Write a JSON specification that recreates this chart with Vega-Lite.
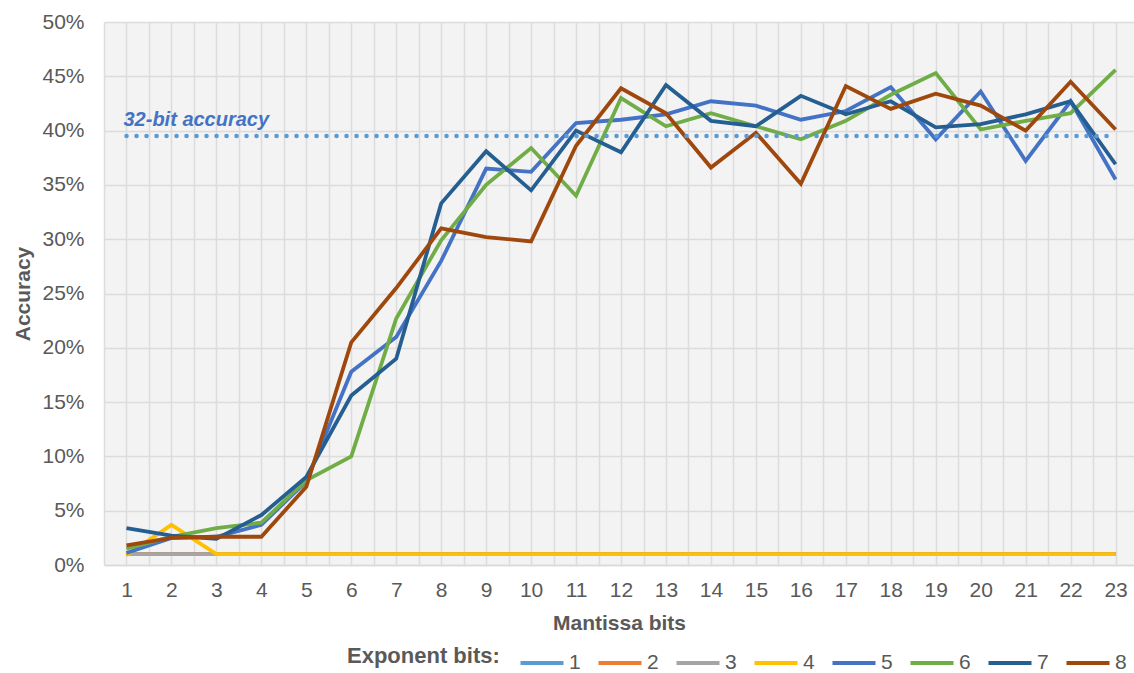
{
  "$schema": "https://vega.github.io/schema/vega-lite/v6.json",
  "width": 1030,
  "height": 543,
  "autosize": {"type": "none"},
  "padding": {"left": 104, "top": 22, "right": 0, "bottom": 108},
  "background": "white",
  "config": {
    "font": "Liberation Sans",
    "view": {"stroke": null, "fill": "#f3f3f3"},
    "axis": {
      "labelFont": "Liberation Sans",
      "labelFontSize": 21,
      "labelColor": "#595959",
      "titleFont": "Liberation Sans",
      "titleFontSize": 21,
      "titleFontWeight": "bold",
      "titleColor": "#595959",
      "gridColor": "#dcdcdc",
      "gridWidth": 1.5,
      "ticks": false
    }
  },
  "resolve": {"axis": {"x": "independent"}},
  "datasets": {
    "acc": [
      {"m":1,"e":"1","v":1.0},{"m":2,"e":"1","v":1.0},{"m":3,"e":"1","v":1.0},{"m":4,"e":"1","v":1.0},{"m":5,"e":"1","v":1.0},{"m":6,"e":"1","v":1.0},{"m":7,"e":"1","v":1.0},{"m":8,"e":"1","v":1.0},{"m":9,"e":"1","v":1.0},{"m":10,"e":"1","v":1.0},{"m":11,"e":"1","v":1.0},{"m":12,"e":"1","v":1.0},{"m":13,"e":"1","v":1.0},{"m":14,"e":"1","v":1.0},{"m":15,"e":"1","v":1.0},{"m":16,"e":"1","v":1.0},{"m":17,"e":"1","v":1.0},{"m":18,"e":"1","v":1.0},{"m":19,"e":"1","v":1.0},{"m":20,"e":"1","v":1.0},{"m":21,"e":"1","v":1.0},{"m":22,"e":"1","v":1.0},{"m":23,"e":"1","v":1.0},
      {"m":1,"e":"2","v":1.0},{"m":2,"e":"2","v":1.0},{"m":3,"e":"2","v":1.0},{"m":4,"e":"2","v":1.0},{"m":5,"e":"2","v":1.0},{"m":6,"e":"2","v":1.0},{"m":7,"e":"2","v":1.0},{"m":8,"e":"2","v":1.0},{"m":9,"e":"2","v":1.0},{"m":10,"e":"2","v":1.0},{"m":11,"e":"2","v":1.0},{"m":12,"e":"2","v":1.0},{"m":13,"e":"2","v":1.0},{"m":14,"e":"2","v":1.0},{"m":15,"e":"2","v":1.0},{"m":16,"e":"2","v":1.0},{"m":17,"e":"2","v":1.0},{"m":18,"e":"2","v":1.0},{"m":19,"e":"2","v":1.0},{"m":20,"e":"2","v":1.0},{"m":21,"e":"2","v":1.0},{"m":22,"e":"2","v":1.0},{"m":23,"e":"2","v":1.0},
      {"m":1,"e":"3","v":1.0},{"m":2,"e":"3","v":1.0},{"m":3,"e":"3","v":1.0},{"m":4,"e":"3","v":1.0},{"m":5,"e":"3","v":1.0},{"m":6,"e":"3","v":1.0},{"m":7,"e":"3","v":1.0},{"m":8,"e":"3","v":1.0},{"m":9,"e":"3","v":1.0},{"m":10,"e":"3","v":1.0},{"m":11,"e":"3","v":1.0},{"m":12,"e":"3","v":1.0},{"m":13,"e":"3","v":1.0},{"m":14,"e":"3","v":1.0},{"m":15,"e":"3","v":1.0},{"m":16,"e":"3","v":1.0},{"m":17,"e":"3","v":1.0},{"m":18,"e":"3","v":1.0},{"m":19,"e":"3","v":1.0},{"m":20,"e":"3","v":1.0},{"m":21,"e":"3","v":1.0},{"m":22,"e":"3","v":1.0},{"m":23,"e":"3","v":1.0},
      {"m":1,"e":"4","v":0.9},{"m":2,"e":"4","v":3.7},{"m":3,"e":"4","v":1.0},{"m":4,"e":"4","v":1.0},{"m":5,"e":"4","v":1.0},{"m":6,"e":"4","v":1.0},{"m":7,"e":"4","v":1.0},{"m":8,"e":"4","v":1.0},{"m":9,"e":"4","v":1.0},{"m":10,"e":"4","v":1.0},{"m":11,"e":"4","v":1.0},{"m":12,"e":"4","v":1.0},{"m":13,"e":"4","v":1.0},{"m":14,"e":"4","v":1.0},{"m":15,"e":"4","v":1.0},{"m":16,"e":"4","v":1.0},{"m":17,"e":"4","v":1.0},{"m":18,"e":"4","v":1.0},{"m":19,"e":"4","v":1.0},{"m":20,"e":"4","v":1.0},{"m":21,"e":"4","v":1.0},{"m":22,"e":"4","v":1.0},{"m":23,"e":"4","v":1.0},
      {"m":1,"e":"5","v":1.1},{"m":2,"e":"5","v":2.5},{"m":3,"e":"5","v":2.6},{"m":4,"e":"5","v":3.7},{"m":5,"e":"5","v":7.7},{"m":6,"e":"5","v":17.8},{"m":7,"e":"5","v":21.0},{"m":8,"e":"5","v":28.0},{"m":9,"e":"5","v":36.5},{"m":10,"e":"5","v":36.2},{"m":11,"e":"5","v":40.7},{"m":12,"e":"5","v":41.0},{"m":13,"e":"5","v":41.5},{"m":14,"e":"5","v":42.7},{"m":15,"e":"5","v":42.3},{"m":16,"e":"5","v":41.0},{"m":17,"e":"5","v":41.8},{"m":18,"e":"5","v":44.0},{"m":19,"e":"5","v":39.2},{"m":20,"e":"5","v":43.6},{"m":21,"e":"5","v":37.2},{"m":22,"e":"5","v":42.7},{"m":23,"e":"5","v":35.5},
      {"m":1,"e":"6","v":1.5},{"m":2,"e":"6","v":2.6},{"m":3,"e":"6","v":3.4},{"m":4,"e":"6","v":3.9},{"m":5,"e":"6","v":7.8},{"m":6,"e":"6","v":10.0},{"m":7,"e":"6","v":22.7},{"m":8,"e":"6","v":29.9},{"m":9,"e":"6","v":35.0},{"m":10,"e":"6","v":38.4},{"m":11,"e":"6","v":34.0},{"m":12,"e":"6","v":43.0},{"m":13,"e":"6","v":40.4},{"m":14,"e":"6","v":41.6},{"m":15,"e":"6","v":40.4},{"m":16,"e":"6","v":39.2},{"m":17,"e":"6","v":40.9},{"m":18,"e":"6","v":43.3},{"m":19,"e":"6","v":45.3},{"m":20,"e":"6","v":40.1},{"m":21,"e":"6","v":40.9},{"m":22,"e":"6","v":41.6},{"m":23,"e":"6","v":45.6},
      {"m":1,"e":"7","v":3.4},{"m":2,"e":"7","v":2.7},{"m":3,"e":"7","v":2.4},{"m":4,"e":"7","v":4.6},{"m":5,"e":"7","v":8.1},{"m":6,"e":"7","v":15.6},{"m":7,"e":"7","v":19.0},{"m":8,"e":"7","v":33.3},{"m":9,"e":"7","v":38.1},{"m":10,"e":"7","v":34.5},{"m":11,"e":"7","v":40.0},{"m":12,"e":"7","v":38.0},{"m":13,"e":"7","v":44.2},{"m":14,"e":"7","v":40.9},{"m":15,"e":"7","v":40.4},{"m":16,"e":"7","v":43.2},{"m":17,"e":"7","v":41.5},{"m":18,"e":"7","v":42.7},{"m":19,"e":"7","v":40.3},{"m":20,"e":"7","v":40.6},{"m":21,"e":"7","v":41.5},{"m":22,"e":"7","v":42.7},{"m":23,"e":"7","v":36.9},
      {"m":1,"e":"8","v":1.8},{"m":2,"e":"8","v":2.5},{"m":3,"e":"8","v":2.6},{"m":4,"e":"8","v":2.6},{"m":5,"e":"8","v":7.2},{"m":6,"e":"8","v":20.5},{"m":7,"e":"8","v":25.5},{"m":8,"e":"8","v":31.0},{"m":9,"e":"8","v":30.2},{"m":10,"e":"8","v":29.8},{"m":11,"e":"8","v":38.6},{"m":12,"e":"8","v":43.9},{"m":13,"e":"8","v":41.6},{"m":14,"e":"8","v":36.6},{"m":15,"e":"8","v":39.8},{"m":16,"e":"8","v":35.1},{"m":17,"e":"8","v":44.1},{"m":18,"e":"8","v":42.0},{"m":19,"e":"8","v":43.4},{"m":20,"e":"8","v":42.3},{"m":21,"e":"8","v":40.0},{"m":22,"e":"8","v":44.5},{"m":23,"e":"8","v":40.1}
    ],
    "ref": [{"x1": 1, "x2": 23, "v": 39.5, "label": "32-bit accuracy"}]
  },
  "layer": [
    {
      "data": {"name": "acc"},
      "mark": {"type": "line", "strokeWidth": 3.8, "strokeJoin": "miter", "strokeCap": "butt"},
      "encoding": {
        "x": {
          "field": "m", "type": "quantitative",
          "scale": {"domain": [0.5, 23.41], "nice": false, "zero": false},
          "axis": {
            "title": "Mantissa bits",
            "values": [1,2,3,4,5,6,7,8,9,10,11,12,13,14,15,16,17,18,19,20,21,22,23],
            "format": "d",
            "labelOverlap": false,
            "labelFlush": false,
            "labelPadding": 14,
            "titlePadding": 12,
            "domainColor": "#d9d9d9",
            "domainWidth": 1.5
          }
        },
        "y": {
          "field": "v", "type": "quantitative",
          "scale": {"domain": [0, 50], "nice": false},
          "axis": {
            "title": "Accuracy",
            "values": [0,5,10,15,20,25,30,35,40,45,50],
            "labelExpr": "datum.value + '%'",
            "labelPadding": 20,
            "titlePadding": 8,
            "domain": false
          }
        },
        "color": {
          "field": "e", "type": "nominal",
          "scale": {
            "domain": ["1","2","3","4","5","6","7","8"],
            "range": ["#5B9BD5","#ED7D31","#A5A5A5","#FFC000","#4472C4","#70AD47","#255E91","#9E480E"]
          },
          "legend": {
            "title": "Exponent bits:",
            "orient": "none",
            "legendX": 243,
            "legendY": 617,
            "direction": "horizontal",
            "titleOrient": "left",
            "titleFontSize": 22,
            "titleFontWeight": "bold",
            "titleColor": "#595959",
            "titleFont": "Liberation Sans",
            "titlePadding": 18,
            "labelFontSize": 21,
            "labelColor": "#595959",
            "labelFont": "Liberation Sans",
            "labelOffset": 3,
            "symbolType": "stroke",
            "symbolSize": 1850,
            "symbolStrokeWidth": 4,
            "columnPadding": 9
          }
        }
      }
    },
    {
      "data": {"name": "ref"},
      "mark": {"type": "rule", "color": "#5B9BD5", "strokeWidth": 4.5, "strokeCap": "round", "strokeDash": [0.1, 9.9]},
      "encoding": {
        "x": {
          "field": "x1", "type": "quantitative",
          "axis": {
            "title": null,
            "values": [0.5,1.5,2.5,3.5,4.5,5.5,6.5,7.5,8.5,9.5,10.5,11.5,12.5,13.5,14.5,15.5,16.5,17.5,18.5,19.5,20.5,21.5,22.5],
            "labels": false,
            "domain": false,
            "ticks": false,
            "grid": true
          }
        },
        "x2": {"field": "x2"},
        "y": {"field": "v", "type": "quantitative"}
      }
    },
    {
      "data": {"name": "ref"},
      "mark": {"type": "text", "color": "#4472C4", "fontSize": 20, "fontWeight": "bold", "fontStyle": "italic", "align": "left", "baseline": "alphabetic", "dx": -3, "dy": -10, "font": "Liberation Sans"},
      "encoding": {
        "x": {"field": "x1", "type": "quantitative", "axis": null},
        "y": {"field": "v", "type": "quantitative"},
        "text": {"field": "label"}
      }
    }
  ]
}
